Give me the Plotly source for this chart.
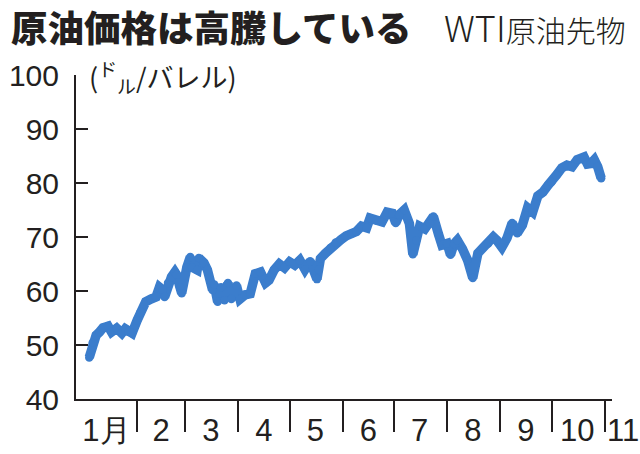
import plotly.graph_objects as go

# ---- data ----
dates = [
    "2021-01-04", "2021-01-06", "2021-01-08", "2021-01-10", "2021-01-12", "2021-01-15",
    "2021-01-17", "2021-01-20", "2021-01-23", "2021-01-25", "2021-01-27", "2021-01-29",
    "2021-02-01", "2021-02-03", "2021-02-06", "2021-02-09", "2021-02-12", "2021-02-14",
    "2021-02-16", "2021-02-17", "2021-02-19", "2021-02-21", "2021-02-23", "2021-02-24",
    "2021-02-26", "2021-02-27", "2021-03-02", "2021-03-04", "2021-03-05", "2021-03-08",
    "2021-03-09", "2021-03-12", "2021-03-14", "2021-03-17", "2021-03-18", "2021-03-20",
    "2021-03-22", "2021-03-24", "2021-03-26", "2021-03-28", "2021-03-31", "2021-04-02",
    "2021-04-05", "2021-04-08", "2021-04-11", "2021-04-14", "2021-04-17", "2021-04-19",
    "2021-04-22", "2021-04-25", "2021-04-28", "2021-05-01", "2021-05-04", "2021-05-07",
    "2021-05-10", "2021-05-13", "2021-05-17", "2021-05-18", "2021-05-19", "2021-05-22",
    "2021-05-25", "2021-05-28", "2021-05-31", "2021-06-03", "2021-06-06", "2021-06-09",
    "2021-06-12", "2021-06-15", "2021-06-17", "2021-06-21", "2021-06-24", "2021-06-27",
    "2021-06-30", "2021-07-02", "2021-07-04", "2021-07-07", "2021-07-10", "2021-07-12",
    "2021-07-14", "2021-07-16", "2021-07-19", "2021-07-22", "2021-07-24", "2021-07-27",
    "2021-07-29", "2021-08-01", "2021-08-03", "2021-08-05", "2021-08-07", "2021-08-10",
    "2021-08-13", "2021-08-16", "2021-08-19", "2021-08-22", "2021-08-25", "2021-08-28",
    "2021-08-30", "2021-09-02", "2021-09-05", "2021-09-08", "2021-09-11", "2021-09-14",
    "2021-09-17", "2021-09-20", "2021-09-23", "2021-09-26", "2021-09-29", "2021-10-01",
    "2021-10-04", "2021-10-07", "2021-10-10", "2021-10-13", "2021-10-16", "2021-10-20",
    "2021-10-22", "2021-10-24", "2021-10-26", "2021-10-28", "2021-10-30",
]
prices = [
    47.7, 50.4, 51.8, 52.4, 53.2, 53.5,
    52.4, 53.1, 52.2, 53.0, 52.4, 52.2,
    54.6, 56.1, 58.0, 58.5, 58.9, 60.7,
    60.2, 58.9, 61.5, 62.6, 63.5, 63.0,
    60.7, 59.6, 64.4, 66.3, 64.4, 63.9,
    66.1, 65.2, 63.9, 60.2, 61.2, 58.0,
    60.7, 58.3, 61.5, 58.5, 61.0, 58.5,
    59.3, 59.5, 63.2, 63.5, 61.5, 62.0,
    63.9, 65.0, 64.3, 65.4, 64.8, 65.7,
    64.0, 65.5, 62.2, 64.0, 66.0, 67.0,
    68.0, 69.0, 69.5, 70.2, 70.6, 71.0,
    72.0, 71.7, 73.5, 73.0, 72.8, 74.6,
    74.4, 72.6, 74.1, 75.0, 72.5, 66.8,
    69.4, 72.0, 71.5, 72.5, 73.8, 70.5,
    68.5, 68.8, 66.7, 68.7, 69.4, 67.8,
    65.7, 62.4, 67.0, 68.0, 68.8, 70.0,
    69.4, 68.1, 69.8, 72.6, 70.7, 72.2,
    75.4, 74.6, 77.6, 78.3, 79.6, 80.2,
    81.5, 82.8, 83.3, 83.0, 84.3, 84.8,
    83.5, 83.6, 84.3, 83.0, 80.9,
]

y_ticks = [40, 50, 60, 70, 80, 90, 100]
month_bounds = ["2021-02-01", "2021-03-01", "2021-04-01", "2021-05-01", "2021-06-01",
                "2021-07-01", "2021-08-01", "2021-09-01", "2021-10-01", "2021-11-01"]
month_label_pos = ["2021-01-14", "2021-02-15", "2021-03-16", "2021-04-16", "2021-05-16",
                   "2021-06-16", "2021-07-16", "2021-08-16", "2021-09-16", "2021-10-16"]
month_labels = ["1月", "2", "3", "4", "5", "6", "7", "8", "9", "10"]
last_month_label = "11"

title_text = "原油価格は高騰している"
subtitle_text = "<span style='font-size:36px'>WTI</span>原油先物"
unit_text = "(<sup>ド</sup><sub>ル</sub>/バレル)"

LINE_COLOR = "#3b7dcc"
INK = "#231f20"
NUM_FONT = "Liberation Sans, Arial, sans-serif"
JP_FONT = "Noto Sans CJK JP, Noto Sans CJK SC, sans-serif"

# plot area in pixels: x 76..612, y 75..399
L, R, T, B = 76, 28, 75, 55
PW, PH = 640 - L - R, 454 - T - B


def px(x):
    return (x - L) / PW


def py(y):
    return (454 - B - y) / PH


fig = go.Figure()
fig.add_trace(go.Scatter(
    x=dates, y=prices, mode="lines+markers",
    line=dict(color=LINE_COLOR, width=9.5),
    marker=dict(color=LINE_COLOR, size=8.5, line=dict(width=0)),
    hoverinfo="skip", showlegend=False,
))

fig.update_layout(
    template="none",
    width=640, height=454,
    margin=dict(l=L, r=R, t=T, b=B, pad=0),
    paper_bgcolor="white", plot_bgcolor="white",
    xaxis=dict(
        type="date", automargin=False,
        range=["2020-12-27 06:00", "2021-11-05 08:00"],
        showgrid=False, zeroline=False,
        showline=True, linecolor=INK, linewidth=2,
        tickvals=month_label_pos, ticktext=month_labels,
        ticks="", ticklabelstandoff=3,
        tickfont=dict(family=NUM_FONT, size=31, color=INK),
        minor=dict(tickvals=month_bounds, ticks="outside", ticklen=31,
                   tickwidth=2, tickcolor=INK, showgrid=False),
    ),
    yaxis=dict(
        automargin=False,
        range=[40, 100],
        showgrid=False, zeroline=False,
        showline=True, linecolor=INK, linewidth=2,
        tickvals=y_ticks, ticktext=[str(v) for v in y_ticks],
        ticks="inside", ticklen=12, tickwidth=2, tickcolor=INK,
        ticklabelstandoff=9,
        tickfont=dict(family=NUM_FONT, size=30, color=INK),
    ),
    annotations=[
        dict(text=title_text, xref="paper", yref="paper",
             x=px(9), y=py(26), xanchor="left", yanchor="middle",
             showarrow=False,
             font=dict(family=JP_FONT, size=36.5, color=INK, weight=900)),
        dict(text=subtitle_text, xref="paper", yref="paper",
             x=px(628), y=py(26), xanchor="right", yanchor="middle",
             showarrow=False,
             font=dict(family=JP_FONT, size=30, color=INK, weight=300)),
        dict(text=unit_text, xref="paper", yref="paper",
             x=px(87), y=py(77), xanchor="left", yanchor="middle",
             showarrow=False,
             font=dict(family=JP_FONT, size=27, color=INK)),
        dict(text=last_month_label, xref="paper", yref="paper",
             x=px(623), y=py(430), xanchor="center", yanchor="middle",
             showarrow=False,
             font=dict(family=NUM_FONT, size=31, color=INK)),
    ],
)

fig.write_html("out.html", config={"displayModeBar": False},
               post_script="document.body.style.margin='0';")
